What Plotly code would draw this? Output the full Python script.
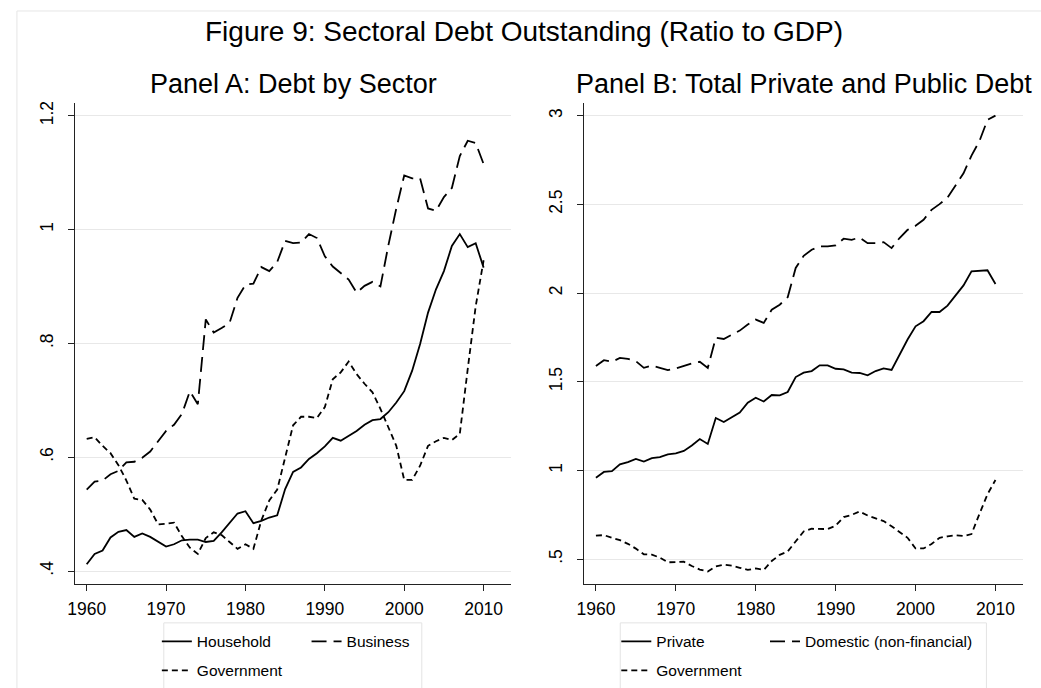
import plotly.graph_objects as go

years = list(range(1960, 2011))

household = [0.412, 0.430, 0.436, 0.459, 0.469, 0.472, 0.460, 0.466, 0.460, 0.452,
             0.443, 0.447, 0.454, 0.455, 0.455, 0.451, 0.453, 0.468, 0.484, 0.501,
             0.505, 0.484, 0.488, 0.494, 0.498, 0.544, 0.574, 0.582, 0.597, 0.607,
             0.619, 0.634, 0.629, 0.638, 0.646, 0.657, 0.665, 0.667, 0.679, 0.696,
             0.716, 0.752, 0.799, 0.854, 0.895, 0.927, 0.971, 0.992, 0.969, 0.976,
             0.933]

business = [0.543, 0.557, 0.559, 0.570, 0.576, 0.591, 0.592, 0.599, 0.610, 0.629,
            0.646, 0.657, 0.676, 0.716, 0.693, 0.842, 0.819, 0.827, 0.836, 0.880,
            0.903, 0.905, 0.934, 0.927, 0.943, 0.980, 0.976, 0.977, 0.992, 0.985,
            0.953, 0.935, 0.923, 0.912, 0.889, 0.901, 0.908, 0.900, 0.972, 1.037,
            1.095, 1.090, 1.090, 1.037, 1.033, 1.057, 1.073, 1.129, 1.156, 1.152,
            1.115]

government = [0.632, 0.635, 0.620, 0.607, 0.586, 0.559, 0.527, 0.525, 0.508, 0.482,
              0.483, 0.485, 0.461, 0.441, 0.430, 0.458, 0.468, 0.463, 0.451, 0.439,
              0.447, 0.439, 0.489, 0.524, 0.543, 0.600, 0.656, 0.671, 0.671, 0.669,
              0.688, 0.737, 0.749, 0.768, 0.746, 0.729, 0.714, 0.685, 0.653, 0.620,
              0.560, 0.560, 0.585, 0.620, 0.628, 0.634, 0.630, 0.641, 0.755, 0.865,
              0.946]

private = [0.959, 0.991, 0.996, 1.034, 1.047, 1.065, 1.050, 1.069, 1.075, 1.090,
           1.096, 1.110, 1.140, 1.177, 1.149, 1.295, 1.273, 1.301, 1.326, 1.382,
           1.410, 1.388, 1.425, 1.423, 1.442, 1.526, 1.551, 1.560, 1.592, 1.592,
           1.573, 1.569, 1.551, 1.549, 1.536, 1.560, 1.575, 1.566, 1.654, 1.738,
           1.812, 1.841, 1.893, 1.893, 1.929, 1.987, 2.043, 2.122, 2.126, 2.128,
           2.051]

domestic = [1.588, 1.621, 1.612, 1.634, 1.629, 1.616, 1.578, 1.591, 1.578, 1.565,
            1.575, 1.591, 1.603, 1.612, 1.578, 1.748, 1.741, 1.765, 1.788, 1.822,
            1.850, 1.831, 1.906, 1.934, 1.976, 2.141, 2.210, 2.244, 2.263, 2.263,
            2.268, 2.306, 2.300, 2.313, 2.281, 2.281, 2.287, 2.253, 2.310, 2.356,
            2.379, 2.413, 2.469, 2.501, 2.538, 2.606, 2.675, 2.775, 2.857, 2.976,
            3.000]

x_ticks = [1960, 1970, 1980, 1990, 2000, 2010]
ya_ticks = [0.4, 0.6, 0.8, 1.0, 1.2]
ya_labels = [".4", ".6", ".8", "1", "1.2"]
yb_ticks = [0.5, 1.0, 1.5, 2.0, 2.5, 3.0]
yb_labels = [".5", "1", "1.5", "2", "2.5", "3"]

W, H = 1041, 688
FONT = "Arial, Liberation Sans, sans-serif"
LW = 1.8
SOLID = "solid"
LONG = "15px,7px"
SHORT = "6px,4px"


def px(v):
    return v / W


def py(v):
    return 1 - v / H


fig = go.Figure()

fig.add_trace(go.Scatter(x=years, y=household, name="Household", mode="lines",
                         line=dict(color="black", width=LW, dash=SOLID),
                         xaxis="x", yaxis="y", legend="legend", legendwidth=104.7))
fig.add_trace(go.Scatter(x=years, y=business, name="Business", mode="lines",
                         line=dict(color="black", width=LW, dash=LONG),
                         xaxis="x", yaxis="y", legend="legend"))
fig.add_trace(go.Scatter(x=years, y=government, name="Government", mode="lines",
                         line=dict(color="black", width=LW, dash=SHORT),
                         xaxis="x", yaxis="y", legend="legend2"))

fig.add_trace(go.Scatter(x=years, y=private, name="Private", mode="lines",
                         line=dict(color="black", width=LW, dash=SOLID),
                         xaxis="x2", yaxis="y2", legend="legend3", legendwidth=103.7))
fig.add_trace(go.Scatter(x=years, y=domestic, name="Domestic (non-financial)", mode="lines",
                         line=dict(color="black", width=LW, dash=LONG),
                         xaxis="x2", yaxis="y2", legend="legend3"))
fig.add_trace(go.Scatter(x=years, y=government, name="Government", mode="lines",
                         line=dict(color="black", width=LW, dash=SHORT),
                         xaxis="x2", yaxis="y2", legend="legend4"))

xr = [1958.55, 2013.5]
ydom = [py(583.3), py(101.5)]

axis_common = dict(
    showline=True, linecolor="#222222", linewidth=1.2,
    ticks="outside", ticklen=6, tickwidth=1.2, tickcolor="#222222",
    tickfont=dict(family=FONT, size=17.5, color="black"),
    zeroline=False, mirror=False,
)

fig.update_layout(
    xaxis=dict(domain=[px(67.7), px(507.3)], range=xr, tickvals=x_ticks,
               showgrid=False, anchor="y", ticklabelstandoff=3, **axis_common),
    yaxis=dict(domain=ydom, range=[0.3779, 1.2219], tickvals=ya_ticks, ticktext=ya_labels,
               tickangle=-90, showgrid=True, gridcolor="#e8e8e8", gridwidth=1,
               anchor="x", ticklabelstandoff=8, **axis_common),
    xaxis2=dict(domain=[px(580.8), px(1023.3)], range=xr, tickvals=x_ticks,
                showgrid=False, anchor="y2", ticklabelstandoff=3, **axis_common),
    yaxis2=dict(domain=ydom, range=[0.3617, 3.070], tickvals=yb_ticks, ticktext=yb_labels,
                tickangle=-90, showgrid=True, gridcolor="#e8e8e8", gridwidth=1,
                anchor="x2", ticklabelstandoff=8, **axis_common),
)

leg_common = dict(orientation="h", xanchor="left", yanchor="middle",
                  bgcolor="rgba(0,0,0,0)", borderwidth=0,
                  font=dict(family=FONT, size=15.5, color="black"),
                  itemclick=False, itemdoubleclick=False)

fig.update_layout(
    legend=dict(x=px(150), y=py(641.7), **leg_common),
    legend2=dict(x=px(150), y=py(670.7), **leg_common),
    legend3=dict(x=px(613), y=py(641.7), **leg_common),
    legend4=dict(x=px(613), y=py(670.7), **leg_common),
)

# outer graph-region border and legend frames (decoration)
fig.add_shape(type="rect", xref="paper", yref="paper",
              x0=px(9), x1=1.05, y0=-0.05, y1=py(9),
              line=dict(color="#e6e6e6", width=1), fillcolor="rgba(0,0,0,0)", layer="below")
fig.add_shape(type="rect", xref="paper", yref="paper",
              x0=px(157), x1=px(417), y0=-0.05, y1=py(622.7),
              line=dict(color="#e3e3e3", width=1), fillcolor="rgba(0,0,0,0)")
fig.add_shape(type="rect", xref="paper", yref="paper",
              x0=px(617), x1=px(986), y0=-0.05, y1=py(622.7),
              line=dict(color="#e3e3e3", width=1), fillcolor="rgba(0,0,0,0)")

fig.add_annotation(text="Figure 9: Sectoral Debt Outstanding (Ratio to GDP)",
                   xref="paper", yref="paper", x=px(520), y=py(30),
                   xanchor="center", yanchor="middle", showarrow=False,
                   font=dict(family=FONT, size=28, color="black"))
fig.add_annotation(text="Panel A: Debt by Sector",
                   xref="paper", yref="paper", x=px(287.5), y=py(82),
                   xanchor="center", yanchor="middle", showarrow=False,
                   font=dict(family=FONT, size=27, color="black"))
fig.add_annotation(text="Panel B: Total Private and Public Debt",
                   xref="paper", yref="paper", x=px(802), y=py(82),
                   xanchor="center", yanchor="middle", showarrow=False,
                   font=dict(family=FONT, size=27, color="black"))

fig.update_layout(
    width=W, height=H,
    margin=dict(l=0, r=0, t=0, b=0),
    paper_bgcolor="white", plot_bgcolor="white",
    showlegend=True,
)

fig.write_html("out.html", config={"displayModeBar": False},
               post_script="document.body.style.margin='0';document.body.style.overflow='hidden';")
